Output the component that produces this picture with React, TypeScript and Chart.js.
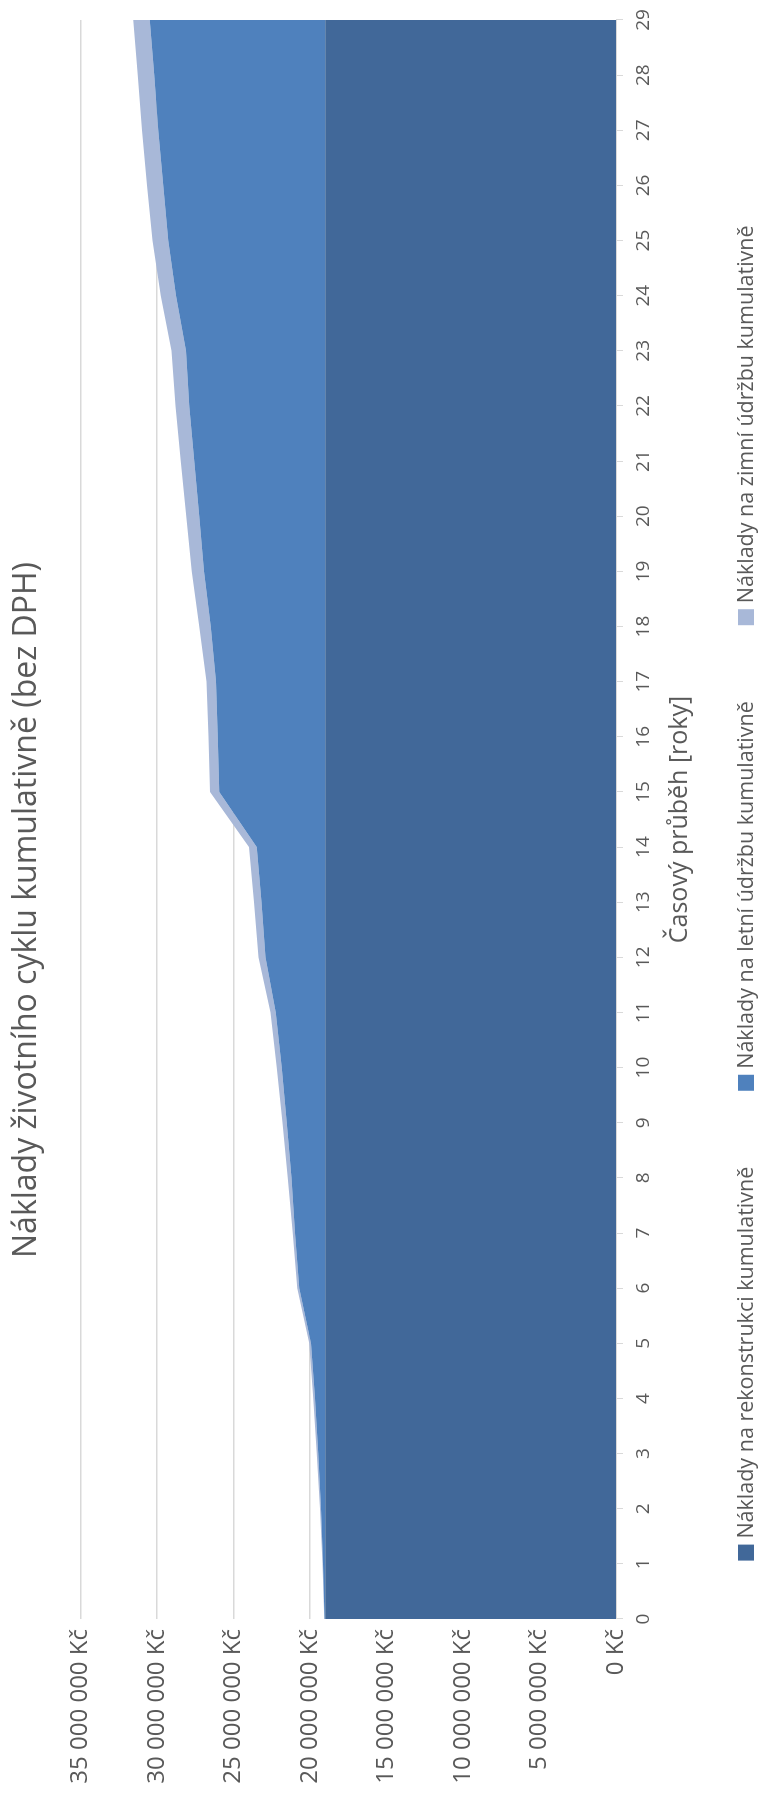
import React, { useEffect, useRef } from "react";
import { Chart, registerables } from "chart.js";

Chart.register(...registerables);

// Landscape chart canvas, shown turned a quarter turn counter-clockwise.
const CHART_W = 1800;
const CHART_H = 758;

const years = [
  "0", "1", "2", "3", "4", "5", "6", "7", "8", "9",
  "10", "11", "12", "13", "14", "15", "16", "17", "18", "19",
  "20", "21", "22", "23", "24", "25", "26", "27", "28", "29",
];

// Cumulative costs per year in Kč (stacked on top of each other).
const reconstructionCum = [
  19000000, 19000000, 19000000, 19000000, 19000000, 19000000, 19000000, 19000000, 19000000, 19000000,
  19000000, 19000000, 19000000, 19000000, 19000000, 19000000, 19000000, 19000000, 19000000, 19000000,
  19000000, 19000000, 19000000, 19000000, 19000000, 19000000, 19000000, 19000000, 19000000, 19000000,
];

const summerCum = [
  50000, 150000, 280000, 460000, 670000, 930000, 1700000, 1980000, 2200000, 2520000,
  2850000, 3240000, 3900000, 4160000, 4480000, 6930000, 7030000, 7140000, 7490000, 7930000,
  8230000, 8560000, 8890000, 9100000, 9750000, 10260000, 10590000, 10920000, 11180000, 11460000,
];

const winterCum = [
  20000, 30000, 60000, 90000, 110000, 120000, 130000, 150000, 250000, 270000,
  320000, 340000, 460000, 490000, 510000, 600000, 600000, 620000, 740000, 790000,
  860000, 880000, 890000, 940000, 1000000, 1030000, 1050000, 1060000, 1070000, 1080000,
];

const seriesNames = [
  "Náklady na rekonstrukci kumulativně",
  "Náklady na letní údržbu kumulativně",
  "Náklady na zimní údržbu kumulativně",
];
const seriesColors = ["#416899", "#4f81bd", "#a8b8d8"];

const valueMax = 35000000;
const valueStep = 5000000;

const chartTitle = "Náklady životního cyklu kumulativně (bez DPH)";
const timeAxisTitle = "Časový průběh [roky]";

const TEXT_COLOR = "#595959";
const GRID_COLOR = "#d9d9d9";
const FONT_FAMILY = "'Open Sans', sans-serif";

function formatKc(v: number): string {
  const s = Math.round(v)
    .toString()
    .replace(/\B(?=(\d{3})+(?!\d))/g, " ");
  return s + " Kč";
}

// Single-row legend under the time axis, centred on the canvas.
const rowLegend = {
  id: "rowLegend",
  afterDraw(chart: any) {
    const ctx: CanvasRenderingContext2D = chart.ctx;
    const box = 16;
    const gapText = 6;
    const gapItem = 76;
    const centerX = 907;
    const centerY = 746;
    ctx.save();
    ctx.font = `21.5px ${FONT_FAMILY}`;
    ctx.textBaseline = "middle";
    ctx.textAlign = "left";
    const widths = seriesNames.map((n) => box + gapText + ctx.measureText(n).width);
    const total = widths.reduce((a, b) => a + b, 0) + gapItem * (seriesNames.length - 1);
    let x = centerX - total / 2;
    seriesNames.forEach((name, i) => {
      ctx.fillStyle = seriesColors[i];
      ctx.fillRect(x, centerY - box / 2, box, box);
      ctx.fillStyle = TEXT_COLOR;
      ctx.fillText(name, x + box + gapText, centerY + 1);
      x += widths[i] + gapItem;
    });
    ctx.restore();
  },
};

export default function App() {
  const canvasRef = useRef<HTMLCanvasElement>(null);

  useEffect(() => {
    const canvas = canvasRef.current;
    if (!canvas) return;
    Chart.defaults.font.family = FONT_FAMILY;

    const series = [reconstructionCum, summerCum, winterCum];
    const chart = new Chart(canvas, {
      type: "line",
      data: {
        labels: years,
        datasets: series.map((data, i) => ({
          label: seriesNames[i],
          data,
          backgroundColor: seriesColors[i],
          borderColor: seriesColors[i],
          borderWidth: 0,
          pointRadius: 0,
          tension: 0,
          fill: i === 0 ? "origin" : "-1",
        })),
      },
      options: {
        responsive: false,
        animation: false,
        devicePixelRatio: 1,
        layout: { padding: { top: 0, right: 20, bottom: 0, left: 0 } },
        plugins: {
          legend: { display: false },
          tooltip: { enabled: false },
          title: {
            display: true,
            text: chartTitle,
            color: TEXT_COLOR,
            font: { size: 32, weight: "normal" },
            padding: { top: 8, bottom: 34 },
          },
        },
        scales: {
          x: {
            type: "category",
            offset: false,
            grid: {
              display: true,
              drawOnChartArea: false,
              drawTicks: true,
              tickLength: 7,
              color: GRID_COLOR,
              lineWidth: 1,
            },
            border: { display: true, color: GRID_COLOR, width: 1 },
            ticks: {
              color: TEXT_COLOR,
              font: { size: 19 },
              padding: 9,
              maxRotation: 0,
              autoSkip: false,
            },
            title: {
              display: true,
              text: timeAxisTitle,
              color: TEXT_COLOR,
              font: { size: 25 },
              padding: { top: 0, bottom: 63 },
            },
            afterFit: (s: any) => {
              s.height = 142;
            },
          },
          y: {
            stacked: true,
            min: 0,
            max: valueMax,
            ticks: {
              stepSize: valueStep,
              color: TEXT_COLOR,
              font: { size: 24 },
              padding: 10,
              callback: (v: any) => formatKc(Number(v)),
            },
            grid: { color: GRID_COLOR, lineWidth: 1.5, drawTicks: false },
            border: { display: false },
            afterFit: (s: any) => {
              s.width = 181;
            },
          },
        },
      },
      plugins: [rowLegend],
    } as any);

    return () => chart.destroy();
  }, []);

  return (
    <div
      style={{
        position: "absolute",
        left: 0,
        top: 0,
        width: CHART_H,
        height: CHART_W,
        overflow: "hidden",
        background: "#ffffff",
      }}
    >
      <div
        style={{
          position: "absolute",
          left: 0,
          top: 0,
          width: CHART_W,
          height: CHART_H,
          transformOrigin: "0 0",
          transform: `translateY(${CHART_W}px) rotate(-90deg)`,
        }}
      >
        <canvas
          ref={canvasRef}
          width={CHART_W}
          height={CHART_H}
          style={{ display: "block", width: CHART_W, height: CHART_H }}
        />
      </div>
    </div>
  );
}
